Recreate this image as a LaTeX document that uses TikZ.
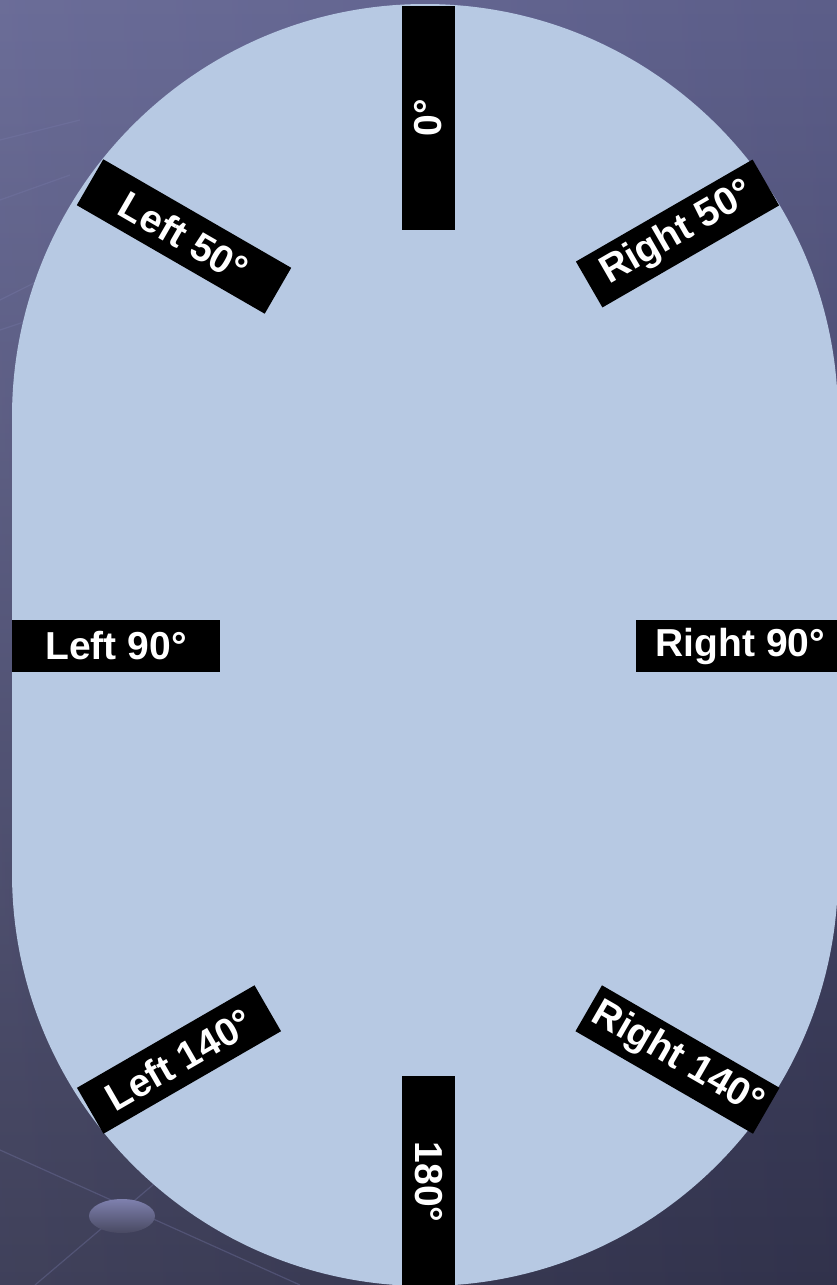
\documentclass[tikz,border=0pt]{standalone}
\usepackage{fontspec}
\setmainfont{Liberation Sans}
\definecolor{bgtop}{RGB}{98,100,146}
\definecolor{bgbot}{RGB}{52,53,80}
\definecolor{plate}{RGB}{183,201,227}
\definecolor{faint}{RGB}{120,122,170}
\tikzset{
  lbl/.style={fill=black, text=white, inner sep=0pt, minimum height=53pt,
    font=\fontsize{39}{39}\selectfont\bfseries},
  faintline/.style={draw=faint, line width=1.2pt, opacity=0.35}
}
\begin{document}
\begin{tikzpicture}[x=1pt,y=-1pt]
\useasboundingbox (0,0) rectangle (837,1285);
% background
\shade[top color=bgtop, bottom color=bgbot] (0,0) rectangle (837,1285);
\shade[left color=white, right color=black, opacity=0.06] (0,0) rectangle (837,1285);
% faint decorations
\draw[faintline] (0,1150) -- (300,1285);
\draw[faintline] (35,1285) -- (300,1060);
\draw[faintline] (0,140) -- (80,120);
\draw[faintline] (0,200) -- (70,175);
\draw[faintline] (0,300) -- (40,280);
\draw[faintline] (0,330) -- (30,320);
\shade[top color=faint!95!white, bottom color=bgbot!90!white] (122,1216) ellipse [x radius=33, y radius=17];
% plate
\fill[plate, rounded corners=413pt] (12,4) rectangle (838,1286);
% labels
\node[lbl, rotate=90,  minimum width=224pt] (n0)   at (428.5,118)  {0°};
\node[lbl, rotate=-90, minimum width=212pt] (n180) at (428.5,1182) {180°};
\node[lbl, minimum width=208pt, minimum height=52pt] (l90) at (116,646)   {Left 90°};
\node[lbl, minimum width=209pt, minimum height=52pt] (r90) at (740.5,646) {Right 90°};
\node[lbl, rotate=-30, minimum width=217pt] (l50)  at (184,236.5)   {Left 50°};
\node[lbl, rotate=30,  minimum width=204pt] (r50)  at (677.5,233.5) {Right 50°};
\node[lbl, rotate=30,  minimum width=205pt] (l140) at (179,1059.5)  {Left 140°};
\node[lbl, rotate=-30, minimum width=205pt] (r140) at (677.5,1059.5) {Right 140°};
\end{tikzpicture}
\end{document}
